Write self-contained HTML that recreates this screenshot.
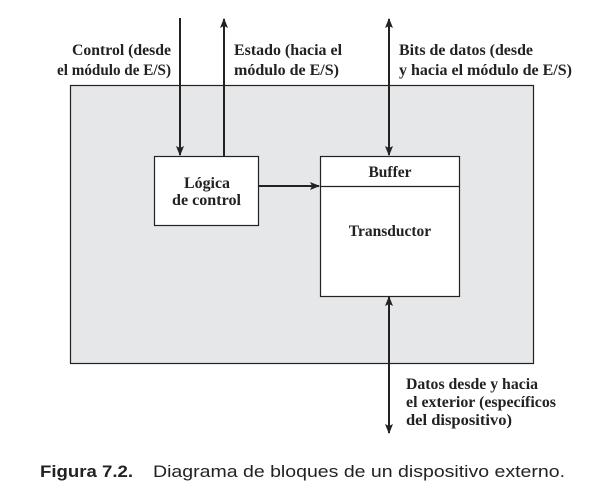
<!DOCTYPE html>
<html><head><meta charset="utf-8"><style>
body{margin:0;background:#fff;width:602px;height:494px;overflow:hidden}
svg text{font-family:"Liberation Serif",serif;font-weight:bold;font-size:15.5px;fill:#222}
</style></head><body>
<svg width="602" height="494" xmlns="http://www.w3.org/2000/svg">
<defs><marker id="a" markerWidth="10" markerHeight="8" refX="9" refY="4" orient="auto" markerUnits="userSpaceOnUse"><path d="M0,0 L10,4 L0,8 L2,4z" fill="#222"/></marker></defs>
<rect x="70.5" y="85.5" width="463" height="278" fill="#e6e7e8" stroke="#222" stroke-width="1.2"/>
<rect x="154.5" y="156.5" width="104" height="69" fill="#fff" stroke="#222" stroke-width="1.2"/>
<rect x="320.5" y="156.5" width="139" height="140" fill="#fff" stroke="#222" stroke-width="1.2"/>
<line x1="320" y1="186.5" x2="460" y2="186.5" stroke="#222" stroke-width="1.2"/>
<g stroke="#222" stroke-width="2" fill="none">
<line x1="180" y1="18" x2="180" y2="155" marker-end="url(#a)"/>
<line x1="224" y1="156" x2="224" y2="19" marker-end="url(#a)"/>
<line x1="389" y1="40" x2="389" y2="19" marker-end="url(#a)"/>
<line x1="389" y1="40" x2="389" y2="155" marker-end="url(#a)"/>
<line x1="259" y1="186" x2="319" y2="186" marker-end="url(#a)"/>
<line x1="389" y1="360" x2="389" y2="297" marker-end="url(#a)"/>
<line x1="389" y1="360" x2="389" y2="433" marker-end="url(#a)"/>
</g>
<g lengthAdjust="spacingAndGlyphs">
<text x="72" y="55" textLength="99" lengthAdjust="spacingAndGlyphs">Control (desde</text>
<text x="57" y="75" textLength="114" lengthAdjust="spacingAndGlyphs">el módulo de E/S)</text>
<text x="234" y="55" textLength="108" lengthAdjust="spacingAndGlyphs">Estado (hacia el</text>
<text x="234" y="75" textLength="105" lengthAdjust="spacingAndGlyphs">módulo de E/S)</text>
<text x="399" y="55" textLength="134" lengthAdjust="spacingAndGlyphs">Bits de datos (desde</text>
<text x="399" y="75" textLength="173" lengthAdjust="spacingAndGlyphs">y hacia el módulo de E/S)</text>
<text x="184" y="188" textLength="46" lengthAdjust="spacingAndGlyphs">Lógica</text>
<text x="172" y="205" textLength="69" lengthAdjust="spacingAndGlyphs">de control</text>
<text x="390" y="177" text-anchor="middle">Buffer</text>
<text x="390" y="236" text-anchor="middle">Transductor</text>
<text x="406" y="389" textLength="132" lengthAdjust="spacingAndGlyphs">Datos desde y hacia</text>
<text x="406" y="407" textLength="150" lengthAdjust="spacingAndGlyphs">el exterior (específicos</text>
<text x="406" y="425" textLength="106" lengthAdjust="spacingAndGlyphs">del dispositivo)</text>
<text x="40" y="477" textLength="93" lengthAdjust="spacingAndGlyphs" style="font-family:'Liberation Sans',sans-serif;font-weight:bold;font-size:17px">Figura 7.2.</text>
<text x="153" y="477" textLength="412" lengthAdjust="spacingAndGlyphs" style="font-family:'Liberation Sans',sans-serif;font-weight:normal;font-size:17px">Diagrama de bloques de un dispositivo externo.</text>
</g>
</svg>
</body></html>
